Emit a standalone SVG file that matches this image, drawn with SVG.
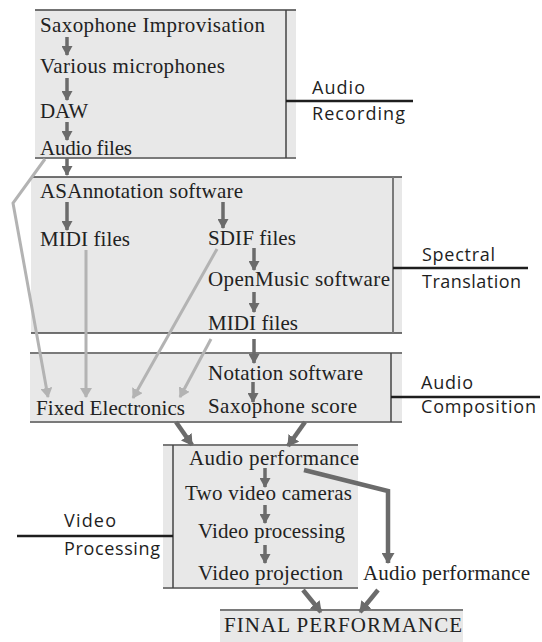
<svg xmlns="http://www.w3.org/2000/svg" width="542" height="642" viewBox="0 0 542 642">
<defs>
<style>
.bg{fill:#e8e8e8;stroke:none}
.ln{stroke:#444;stroke-width:1.5;fill:none}
.lg{stroke:#7a7a7a;stroke-width:2;fill:none}
.lbl{stroke:#1e1e1e;stroke-width:2.5;fill:none}
.s{font-family:"Liberation Serif","Times New Roman",serif;font-size:21px;fill:#222}
.t{font-family:"Open Sans","Liberation Sans",sans-serif;font-size:18px;fill:#1e1e1e}
.d{stroke:#6b6b6b;stroke-width:3.5;fill:none;marker-end:url(#ad)}
.dd{stroke:#6b6b6b;stroke-width:4.5;fill:none;marker-end:url(#ad2)}
.g{stroke:#b3b3b3;stroke-width:3;fill:none;marker-end:url(#ag)}
</style>
<marker id="ad" markerUnits="userSpaceOnUse" markerWidth="10" markerHeight="11" viewBox="0 0 10 11" refX="9" refY="5.5" orient="auto"><path d="M0,0 L10,5.5 L0,11 z" fill="#6b6b6b"/></marker>
<marker id="ad2" markerUnits="userSpaceOnUse" markerWidth="11" markerHeight="13" viewBox="0 0 11 13" refX="10" refY="6.5" orient="auto"><path d="M0,0 L11,6.5 L0,13 z" fill="#6b6b6b"/></marker>
<marker id="ag" markerUnits="userSpaceOnUse" markerWidth="10" markerHeight="12" viewBox="0 0 10 12" refX="9" refY="6" orient="auto"><path d="M0,0 L10,6 L0,12 z" fill="#b3b3b3"/></marker>
</defs>
<rect width="542" height="642" fill="#fff"/>
<g id="stage-audio-recording">
<rect class="bg" x="35" y="10" width="261" height="148"/>
<line class="ln" x1="35" y1="10" x2="296" y2="10"/>
<line class="lg" x1="35" y1="158" x2="296" y2="158"/>
<line class="ln" x1="286" y1="10" x2="286" y2="158"/>
<line class="lbl" x1="286" y1="101" x2="413" y2="101"/>
<text class="t" x="312" y="94" textLength="53" lengthAdjust="spacing">Audio</text>
<text class="t" x="312" y="120" textLength="93" lengthAdjust="spacing">Recording</text>
</g>
<g id="stage-spectral-translation">
<rect class="bg" x="31" y="177" width="371" height="156"/>
<line class="ln" x1="31" y1="177" x2="402" y2="177"/>
<line class="ln" x1="31" y1="333" x2="402" y2="333"/>
<line class="lg" x1="393" y1="177" x2="393" y2="333"/>
<line class="lbl" x1="393" y1="268" x2="528" y2="268"/>
<text class="t" x="422" y="261" textLength="73" lengthAdjust="spacing">Spectral</text>
<text class="t" x="422" y="288" textLength="99" lengthAdjust="spacing">Translation</text>
</g>
<g id="stage-audio-composition">
<rect class="bg" x="30" y="353" width="372" height="69"/>
<line class="lg" x1="30" y1="353" x2="402" y2="353"/>
<line class="lg" x1="30" y1="422" x2="402" y2="422"/>
<line class="ln" x1="391" y1="353" x2="391" y2="422"/>
<line class="lbl" x1="391" y1="397" x2="540" y2="397"/>
<text class="t" x="421" y="389" textLength="52" lengthAdjust="spacing">Audio</text>
<text class="t" x="421" y="413" textLength="115" lengthAdjust="spacing">Composition</text>
</g>
<g id="stage-video-processing">
<rect class="bg" x="163" y="445" width="195" height="143"/>
<line class="lg" x1="163" y1="445" x2="358" y2="445"/>
<line class="lg" x1="163" y1="588" x2="358" y2="588"/>
<line class="ln" x1="173" y1="445" x2="173" y2="588"/>
<line class="lbl" x1="17" y1="536" x2="173" y2="536"/>
<text class="t" x="64" y="527" textLength="52" lengthAdjust="spacing">Video</text>
<text class="t" x="64" y="555" textLength="96" lengthAdjust="spacing">Processing</text>
</g>
<g id="stage-final">
<rect class="bg" x="220" y="610" width="243" height="32"/>
<line class="lg" x1="220" y1="610" x2="463" y2="610"/>
</g>
<g id="connectors">
<line class="d" x1="67" y1="37" x2="67" y2="55"/>
<line class="d" x1="67" y1="78" x2="67" y2="100"/>
<line class="d" x1="67" y1="122" x2="67" y2="140"/>
<line class="d" x1="67" y1="158" x2="67" y2="175"/>
<line class="d" x1="67" y1="202" x2="67" y2="230"/>
<line class="d" x1="223" y1="202" x2="223" y2="228"/>
<line class="d" x1="254" y1="248" x2="254" y2="270"/>
<line class="d" x1="254" y1="292" x2="254" y2="312"/>
<line class="d" x1="254" y1="339" x2="254" y2="363"/>
<line class="d" x1="253" y1="382" x2="253" y2="402"/>
<line class="dd" x1="176" y1="422" x2="192" y2="445"/>
<line class="dd" x1="305" y1="422" x2="288" y2="446"/>
<line class="d" x1="265" y1="468" x2="265" y2="487"/>
<line class="d" x1="265" y1="505" x2="265" y2="523"/>
<line class="d" x1="265" y1="545" x2="265" y2="563"/>
<polyline class="dd" points="304,470 388,491 388,563"/>
<line class="dd" x1="303" y1="590" x2="321" y2="612"/>
<line class="dd" x1="378" y1="590" x2="360" y2="612"/>
<polyline class="g" points="45,159 13,203 48,397"/>
<line class="g" x1="86" y1="250" x2="86" y2="397"/>
<line class="g" x1="217" y1="249" x2="133" y2="398"/>
<line class="g" x1="211" y1="339" x2="180" y2="397"/>
</g>
<g id="n-sax-improv"><text class="s" x="40" y="32" textLength="225" lengthAdjust="spacing">Saxophone Improvisation</text></g>
<g id="n-microphones"><text class="s" x="40" y="73" textLength="185" lengthAdjust="spacing">Various microphones</text></g>
<g id="n-daw"><text class="s" x="40" y="118" textLength="48" lengthAdjust="spacing">DAW</text></g>
<g id="n-audio-files"><text class="s" x="40" y="155" textLength="92" lengthAdjust="spacing">Audio files</text></g>
<g id="n-asannotation"><text class="s" x="40" y="198" textLength="203" lengthAdjust="spacing">ASAnnotation software</text></g>
<g id="n-midi1"><text class="s" x="40" y="246" textLength="90" lengthAdjust="spacing">MIDI files</text></g>
<g id="n-sdif"><text class="s" x="208" y="245" textLength="88" lengthAdjust="spacing">SDIF files</text></g>
<g id="n-openmusic"><text class="s" x="208" y="286" textLength="182" lengthAdjust="spacing">OpenMusic software</text></g>
<g id="n-midi2"><text class="s" x="208" y="330" textLength="90" lengthAdjust="spacing">MIDI files</text></g>
<g id="n-fixed-electronics"><text class="s" x="36" y="415" textLength="149" lengthAdjust="spacing">Fixed Electronics</text></g>
<g id="n-notation"><text class="s" x="208" y="380" textLength="155" lengthAdjust="spacing">Notation software</text></g>
<g id="n-sax-score"><text class="s" x="208" y="413" textLength="149" lengthAdjust="spacing">Saxophone score</text></g>
<g id="n-audio-perf1"><text class="s" x="189" y="465" textLength="170" lengthAdjust="spacing">Audio performance</text></g>
<g id="n-cameras"><text class="s" x="185" y="500" textLength="167" lengthAdjust="spacing">Two video cameras</text></g>
<g id="n-video-proc"><text class="s" x="198" y="538" textLength="147" lengthAdjust="spacing">Video processing</text></g>
<g id="n-video-proj"><text class="s" x="198" y="580" textLength="145" lengthAdjust="spacing">Video projection</text></g>
<g id="n-audio-perf2"><text class="s" x="363" y="580" textLength="167" lengthAdjust="spacing">Audio performance</text></g>
<g id="n-final"><text class="s" x="224" y="632" textLength="238" lengthAdjust="spacing">FINAL PERFORMANCE</text></g>
</svg>
